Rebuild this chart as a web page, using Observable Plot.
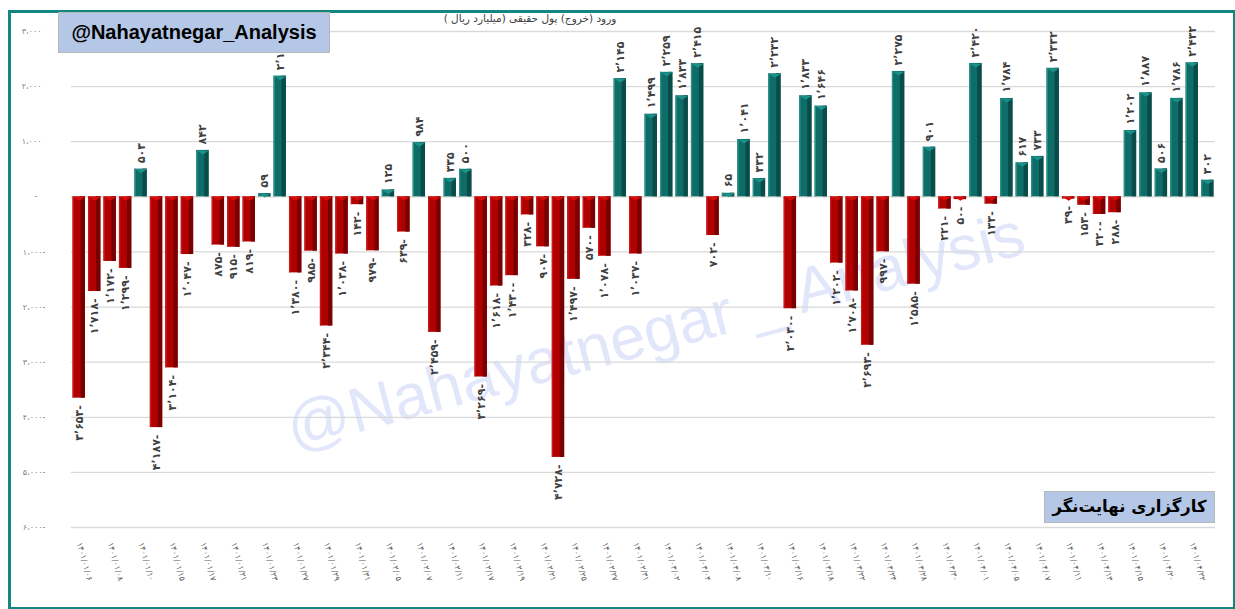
<!DOCTYPE html>
<html><head><meta charset="utf-8">
<script src="https://cdn.jsdelivr.net/npm/d3@7"></script>
<script src="https://cdn.jsdelivr.net/npm/@observablehq/plot@0.6"></script>
<style>
body{margin:0;background:#fff;}
#wrap{position:relative;width:1235px;height:609px;overflow:hidden;background:#fff;}
#chart{position:absolute;left:0;top:0;}
#watermark{position:absolute;left:655px;top:330px;transform:translate(-50%,-50%) rotate(-15deg);font-family:"Liberation Sans",Arial,sans-serif;font-size:63px;color:rgba(95,115,225,0.18);white-space:nowrap;}
#frame{position:absolute;left:8px;top:10px;width:1222px;height:594px;border:3px solid #12877f;}
#brand{position:absolute;left:58px;top:12px;width:270px;height:39px;background:#b4c7e7;border:1px solid #b8b8b8;font-family:"Liberation Sans",Arial,sans-serif;font-weight:bold;font-size:20px;line-height:39px;text-align:center;color:#000;}
#subtitle{position:absolute;left:420px;top:12px;width:220px;text-align:center;font-family:"DejaVu Sans",sans-serif;font-size:10.5px;color:#404040;}
#broker{position:absolute;left:1044px;top:491px;width:169px;height:30px;background:#b4c7e7;border:1px solid #b8b8b8;font-family:"DejaVu Sans",sans-serif;font-weight:bold;font-size:16.5px;line-height:30px;text-align:center;color:#000;white-space:nowrap;}
</style></head><body>
<div id="wrap">
 <div id="watermark">@Nahayatnegar _ Analysis</div>
 <div id="chart"></div>
 <div id="frame"></div>
 <div id="brand">@Nahayatnegar_Analysis</div>
 <div id="subtitle" dir="rtl">ورود (خروج) پول حقیقی (میلیارد ریال )</div>
 <div id="broker" dir="rtl">کارگزاری نهایت‌نگر</div>
</div>
<script>
// Trading dates (Jalali, Persian digits)
const dates = ["۱۴۰۱/۰۱/۰۶","۱۴۰۱/۰۱/۰۷","۱۴۰۱/۰۱/۰۸","۱۴۰۱/۰۱/۰۹","۱۴۰۱/۰۱/۱۰","۱۴۰۱/۰۱/۱۴","۱۴۰۱/۰۱/۱۵","۱۴۰۱/۰۱/۱۶","۱۴۰۱/۰۱/۱۷","۱۴۰۱/۰۱/۲۰","۱۴۰۱/۰۱/۲۱","۱۴۰۱/۰۱/۲۲","۱۴۰۱/۰۱/۲۳","۱۴۰۱/۰۱/۲۴","۱۴۰۱/۰۱/۲۷","۱۴۰۱/۰۱/۲۸","۱۴۰۱/۰۱/۲۹","۱۴۰۱/۰۱/۳۰","۱۴۰۱/۰۱/۳۱",
"۱۴۰۱/۰۲/۰۴","۱۴۰۱/۰۲/۰۵","۱۴۰۱/۰۲/۰۶","۱۴۰۱/۰۲/۰۷","۱۴۰۱/۰۲/۱۰","۱۴۰۱/۰۲/۱۱","۱۴۰۱/۰۲/۱۲","۱۴۰۱/۰۲/۱۷","۱۴۰۱/۰۲/۱۸","۱۴۰۱/۰۲/۱۹","۱۴۰۱/۰۲/۲۰","۱۴۰۱/۰۲/۲۱","۱۴۰۱/۰۲/۲۴","۱۴۰۱/۰۲/۲۵","۱۴۰۱/۰۲/۲۶","۱۴۰۱/۰۲/۲۷","۱۴۰۱/۰۲/۲۸","۱۴۰۱/۰۲/۳۱",
"۱۴۰۱/۰۳/۰۱","۱۴۰۱/۰۳/۰۲","۱۴۰۱/۰۳/۰۳","۱۴۰۱/۰۳/۰۴","۱۴۰۱/۰۳/۰۷","۱۴۰۱/۰۳/۰۸","۱۴۰۱/۰۳/۰۹","۱۴۰۱/۰۳/۱۰","۱۴۰۱/۰۳/۱۱","۱۴۰۱/۰۳/۱۶","۱۴۰۱/۰۳/۱۷","۱۴۰۱/۰۳/۱۸","۱۴۰۱/۰۳/۲۱","۱۴۰۱/۰۳/۲۲","۱۴۰۱/۰۳/۲۳","۱۴۰۱/۰۳/۲۴","۱۴۰۱/۰۳/۲۵","۱۴۰۱/۰۳/۲۸","۱۴۰۱/۰۳/۲۹","۱۴۰۱/۰۳/۳۰","۱۴۰۱/۰۳/۳۱",
"۱۴۰۱/۰۴/۰۱","۱۴۰۱/۰۴/۰۴","۱۴۰۱/۰۴/۰۵","۱۴۰۱/۰۴/۰۶","۱۴۰۱/۰۴/۰۷","۱۴۰۱/۰۴/۰۸","۱۴۰۱/۰۴/۱۱","۱۴۰۱/۰۴/۱۲","۱۴۰۱/۰۴/۱۳","۱۴۰۱/۰۴/۱۴","۱۴۰۱/۰۴/۱۵","۱۴۰۱/۰۴/۱۸","۱۴۰۱/۰۴/۲۰","۱۴۰۱/۰۴/۲۱","۱۴۰۱/۰۴/۲۲","۱۴۰۱/۰۴/۲۵"];

// Net real-money inflow (billion rials)
const values = [-3653,-1718,-1172,-1299,503,-4187,-3104,-1047,842,-875,-915,-819,59,2190,-1380,-985,-2344,-1038,-142,-979,125,-639,984,-2459,335,500,-3269,-1618,-1430,-328,-907,-4728,-1497,-570,-1078,2145,-1037,1499,2259,1833,2415,-702,65,1041,332,2232,-2030,1833,1646,-1202,-1708,-2693,-997,2275,-1585,901,-221,-50,2420,-133,1784,617,733,2332,-39,-153,-320,-288,1202,1887,506,1786,2432,302];

// Tick labels shown on the x axis (every other trading day)
const tickDates = dates.filter((d, i) => i % 2 === 0);
const yTicks = [-6000,-5000,-4000,-3000,-2000,-1000,0,1000,2000,3000];

const faDigits = "۰۱۲۳۴۵۶۷۸۹";
const fa = s => String(s).replace(/\d/g, c => faDigits[+c]);
const fmtVal = v => { const s = fa(d3.format(",")(Math.abs(v))).replace(/,/g, "٬"); return v < 0 ? s + "-" : s; };
const fmtTick = v => v === 0 ? "-\u2003" : fa(d3.format(",")(Math.abs(v))).replace(/,/g, "،") + (v < 0 ? "-" : "\u2002");

const data = dates.map((d, i) => ({date: d, value: values[i]}));
const pos = data.filter(d => d.value >= 0);
const neg = data.filter(d => d.value < 0);

const capSymbol = {draw(ctx, size) { const r = Math.sqrt(size / Math.PI); ctx.moveTo(-r, 0); ctx.lineTo(r, 0); ctx.lineTo(0, r * 0.65); ctx.closePath(); }};

const teal = "#0f6d68", tealDark = "#0a4c49", tealCap = "#1b918a", tealLight = "#2a8f89";
const red = "#b00000", redDark = "#780000", redCap = "#dc0a0a", redLight = "#c81818";

const chart = Plot.plot({
  width: 1235, height: 609,
  marginLeft: 71, marginRight: 20, marginTop: 31, marginBottom: 82,
  x: {type: "band", domain: dates, paddingInner: 0.2, paddingOuter: 0.1, axis: null},
  y: {domain: [-6000, 3000], axis: null},
  style: {fontFamily: "'DejaVu Sans', sans-serif", background: "transparent", overflow: "visible"},
  marks: [
    Plot.gridY(yTicks, {stroke: "#d9d9d9", strokeOpacity: 1, strokeWidth: 1.3}),
    Plot.barY(pos, {x: "date", y: "value", fill: teal}),
    Plot.barY(pos, {x: "date", y: "value", fill: tealDark, insetLeft: 8}),
    Plot.barY(pos, {x: "date", y: "value", fill: tealLight, insetRight: 11}),
    Plot.barY(neg, {x: "date", y: "value", fill: red}),
    Plot.barY(neg, {x: "date", y: "value", fill: redDark, insetLeft: 8}),
    Plot.barY(neg, {x: "date", y: "value", fill: redLight, insetRight: 11}),
    Plot.dot(pos, {x: "date", y: "value", symbol: capSymbol, r: 6.2, fill: tealCap, stroke: null}),
    Plot.dot(neg, {x: "date", y: () => 0, symbol: capSymbol, r: 6.2, fill: redCap, stroke: null}),
    Plot.text(pos, {x: "date", y: "value", text: d => fmtVal(d.value), rotate: -90, textAnchor: "start", dy: -6, fontSize: 11, fontWeight: "bold", fill: "#404040"}),
    Plot.text(neg, {x: "date", y: "value", text: d => fmtVal(d.value), rotate: -90, textAnchor: "end", dy: 7, fontSize: 11, fontWeight: "bold", fill: "#404040"}),
    Plot.axisY(yTicks, {tickSize: 0, tickPadding: 26, tickFormat: fmtTick, fontSize: 8, fill: "#7f7f7f", label: null}),
    Plot.axisX(tickDates, {tickSize: 0, tickPadding: 15, tickRotate: 74.5, fontSize: 8, fill: "#595959", label: null})
  ]
});
document.getElementById("chart").appendChild(chart);
</script>
</body></html>
